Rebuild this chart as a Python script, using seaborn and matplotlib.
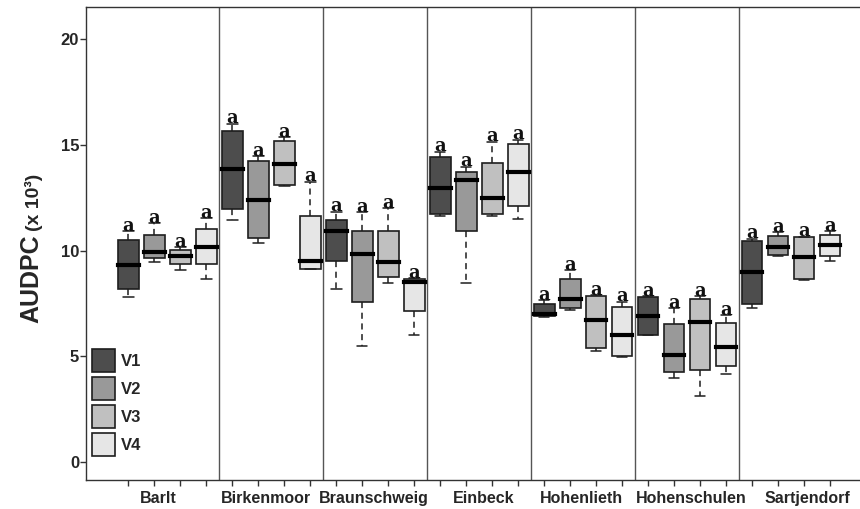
import numpy as np
import pandas as pd
import matplotlib
matplotlib.use("Agg")
import matplotlib.pyplot as plt
import seaborn as sns
from matplotlib.patches import Patch

# ---------------- data (AUDPC x 10^3) ----------------
sites = ["Barlt", "Birkenmoor", "Braunschweig", "Einbeck",
         "Hohenlieth", "Hohenschulen", "Sartjendorf"]
variants = ["V1", "V2", "V3", "V4"]

# five-number summaries per site: (lower whisker, Q1, median, Q3, upper whisker)
v1_stats = [
    (7.82, 8.17, 9.32, 10.50, 10.90),
    (11.42, 11.96, 13.84, 15.63, 16.00),
    (8.17, 9.52, 10.94, 11.43, 11.84),
    (11.65, 11.75, 12.95, 14.41, 14.68),
    (6.87, 6.91, 7.02, 7.46, 7.66),
    (6.00, 6.02, 6.91, 7.79, 7.85),
    (7.30, 7.46, 8.99, 10.45, 10.55),
]
v2_stats = [
    (9.48, 9.63, 9.92, 10.74, 11.30),
    (10.37, 10.57, 12.38, 14.25, 14.47),
    (5.50, 7.57, 9.82, 10.90, 11.80),
    (8.48, 10.90, 13.34, 13.70, 13.97),
    (7.19, 7.27, 7.73, 8.66, 9.08),
    (3.99, 4.24, 5.06, 6.53, 7.27),
    (9.73, 9.78, 10.19, 10.68, 10.87),
]
v3_stats = [
    (9.08, 9.37, 9.76, 10.03, 10.15),
    (13.06, 13.10, 14.11, 15.18, 15.36),
    (8.45, 8.75, 9.46, 10.94, 12.00),
    (11.61, 11.75, 12.50, 14.16, 15.15),
    (5.24, 5.41, 6.70, 7.84, 7.90),
    (3.14, 4.35, 6.61, 7.73, 7.85),
    (8.60, 8.64, 9.68, 10.63, 10.65),
]
v4_stats = [
    (8.66, 9.35, 10.19, 11.01, 11.53),
    (9.11, 9.15, 9.52, 11.65, 13.26),
    (5.99, 7.14, 8.50, 8.64, 8.70),
    (11.51, 12.09, 13.72, 15.03, 15.23),
    (4.97, 5.00, 5.99, 7.35, 7.58),
    (4.15, 4.53, 5.44, 6.59, 6.95),
    (9.52, 9.73, 10.28, 10.72, 10.91),
]
# significance letters (same for every box)
letters_v1 = ["a"] * 7
letters_v2 = ["a"] * 7
letters_v3 = ["a"] * 7
letters_v4 = ["a"] * 7

y_ticks = [0, 5, 10, 15, 20]

# ---------------- styling / layout ----------------
colors = ["#4d4d4d", "#999999", "#c0c0c0", "#e6e6e6"]
stats_all = [v1_stats, v2_stats, v3_stats, v4_stats]
letters_all = [letters_v1, letters_v2, letters_v3, letters_v4]

rows = []
for v, st in zip(variants, stats_all):
    for s, five in zip(sites, st):
        for val in five:
            rows.append({"site": s, "variant": v, "value": val})
df = pd.DataFrame(rows)

sns.set_style("white")
plt.rcParams["font.family"] = ["Liberation Sans", "DejaVu Sans"]
plt.rcParams["font.weight"] = "bold"

W, H = 860, 509
fig = plt.figure(figsize=(W / 100, H / 100), dpi=100)
ax = fig.add_axes([86 / W, 29 / H, 773 / W, 472.7 / H])

edge = "#1e1e1e"
sns.boxplot(
    data=df, x="site", y="value", hue="variant",
    order=sites, hue_order=variants, palette=colors,
    width=1.0, gap=0.2, whis=(0, 100), saturation=1,
    linewidth=1.2, linecolor=edge, legend=False, ax=ax,
    medianprops=dict(color="black", linewidth=3, solid_capstyle="projecting"),
    whiskerprops=dict(linestyle=(0, (4, 3)), color=edge, linewidth=1.1),
    capprops=dict(color=edge, linewidth=1.1),
)

n_h = len(variants)
offsets = [(-0.5 + (j + 0.5) / n_h) for j in range(n_h)]

# separators between sites
for i in range(len(sites) - 1):
    ax.axvline(i + 0.5, color="#555555", lw=1.0, zorder=0.5)

# letters above upper whiskers
for j in range(n_h):
    for i in range(len(sites)):
        ax.text(i + offsets[j], stats_all[j][i][4] + 0.02, letters_all[j][i],
                ha="center", va="baseline", fontsize=13,
                family=["DejaVu Serif"], weight="bold", color="#111111")

ax.set_xlim(-0.784, 6.655)
ax.set_ylim(-0.85, 21.5)
ax.set_yticks(y_ticks)
ax.set_yticklabels([str(t) for t in y_ticks], fontsize=12, weight="bold")
ax.tick_params(axis="y", length=4, width=1, pad=1, direction="out", left=True, color="#333333")

label_x = [-0.087, 0.948, 1.987, 3.041, 3.980, 5.038, 6.155]
ax.set_xticks(label_x)
ax.set_xticklabels(sites, fontsize=11.5, weight="bold")
ax.tick_params(axis="x", which="major", length=0, pad=8)
box_pos = [i + o for i in range(len(sites)) for o in offsets]
ax.set_xticks(box_pos, minor=True)
ax.tick_params(axis="x", which="minor", length=4, width=1, direction="out", bottom=True, color="#333333")
ax.set_xlabel("")
ax.set_ylabel("")

for sp in ["left", "bottom", "top"]:
    ax.spines[sp].set_visible(True)
    ax.spines[sp].set_color("#333333")
    ax.spines[sp].set_linewidth(1.0)
ax.spines["right"].set_visible(False)

# y-axis label
fig.text(31 / W, (H - 323) / H, "AUDPC", rotation=90, ha="center", va="bottom",
         fontsize=18, weight="bold")
fig.text(33.5 / W, (H - 231) / H, "(x 10³)", rotation=90, ha="center", va="bottom",
         fontsize=14, weight="bold")

# legend
handles = [Patch(facecolor=c, edgecolor=edge, linewidth=1.2) for c in colors]
ax.legend(handles, variants, loc="lower left", bbox_to_anchor=(0.0074, 0.05),
          frameon=False, borderpad=0, borderaxespad=0, handlelength=1.4,
          handleheight=1.75, labelspacing=0.3, handletextpad=0.35,
          prop=dict(weight="bold", size=12))

fig.savefig("out.png", dpi=100)
